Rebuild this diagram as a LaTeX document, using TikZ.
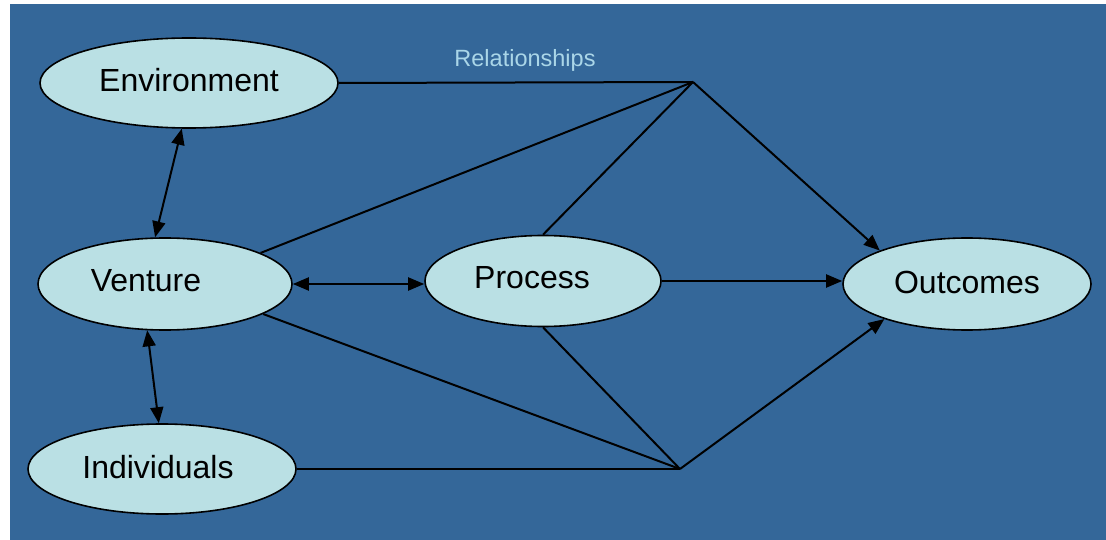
\documentclass[tikz,border=0pt]{standalone}
\usepackage{fontspec}
\setmainfont{Liberation Sans}
\usetikzlibrary{shapes.geometric,arrows.meta}
\definecolor{panel}{RGB}{52,103,153}
\definecolor{blobfill}{RGB}{186,224,228}
\definecolor{reltext}{RGB}{170,214,232}
\begin{document}
\begin{tikzpicture}[x=1pt,y=-1pt,
    blob/.style={ellipse,draw=black,line width=1.6pt,fill=blobfill,inner sep=0pt},
    txt/.style={font=\fontsize{32}{36}\selectfont,text=black},
    tip/.style={-{Triangle[length=16pt,width=13pt]}},
    twotip/.style={{Triangle[length=16pt,width=13pt]}-{Triangle[length=16pt,width=13pt]}}]

      \useasboundingbox (0,0) rectangle (1106,540);
      \fill[panel] (10,4) rectangle (1106,540);

      \begin{scope}[every label/.style={txt}]
        \node[blob, minimum width=298pt, minimum height=90pt, label={[yshift=3pt]center:Environment}] (env) at (189,83) {};
        \node[blob, minimum width=254pt, minimum height=92pt, label={[xshift=-19pt,yshift=3pt]center:Venture}] (venture) at (165,284) {};
        \node[blob, minimum width=268pt, minimum height=90pt, label={[xshift=-4pt,yshift=2pt]center:Individuals}] (indiv) at (162,469) {};
        \node[blob, minimum width=236pt, minimum height=91pt, label={[xshift=-11pt,yshift=3pt]center:Process}] (process) at (543,281) {};
        \node[blob, minimum width=248pt, minimum height=92pt, label={[yshift=2pt]center:Outcomes}] (outcomes) at (967,284) {};
      \end{scope}

      \node[font=\fontsize{23.5}{28}\selectfont, text=reltext] (rel) at (525,60) {Relationships};

      \coordinate (top) at (693,82);
      \coordinate (bottom) at (680,469);

      \begin{scope}[line width=2pt]
        % into the upper junction
        \draw (env.east) -- (top);
        \draw (venture.18) -- (top);
        \draw (process.north) -- (top);
        \draw[tip] (top) -- (outcomes.159);
        % into the lower junction
        \draw (indiv.east) -- (bottom);
        \draw (venture.-17) -- (bottom);
        \draw (process.south) -- (bottom);
        \draw[tip] (bottom) -- (outcomes.-157);
        % between the ellipses
        \draw[tip] (process.east) -- (process.east -| outcomes.west);
        \draw[twotip] (venture.east) -- (venture.east -| process.west);
        \draw[twotip] (env.-99) -- (venture.102);
        \draw[twotip] (venture.-111) -- (indiv.94);
      \end{scope}

    \end{tikzpicture}
\end{document}
